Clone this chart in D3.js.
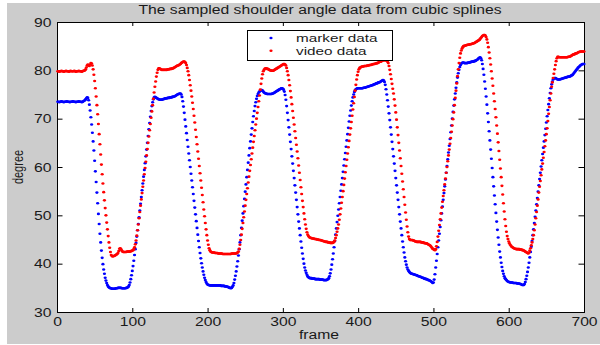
<!DOCTYPE html>
<html>
<head>
<meta charset="utf-8">
<script src="https://cdn.jsdelivr.net/npm/d3@7"></script>
<style>
  body { margin: 0; background: #fff; }
  svg { display: block; }
  text { font-family: Arial, "Liberation Sans", sans-serif; fill: #1a1a1a; }
</style>
</head>
<body>
<svg id="chart" width="600" height="345"></svg>
<script>
// shoulder angle per frame (frames 1..700)
const markerData = [
  73.5,73.5,73.4,73.5,73.5,73.6,73.5,73.5,73.4,73.5, 73.5,73.5,73.6,73.5,73.5,73.5,73.4,73.5,73.5,73.5,
  73.6,73.5,73.5,73.5,73.4,73.5,73.5,73.5,73.6,73.5, 73.5,73.5,73.4,73.5,73.6,73.7,73.8,74.0,74.2,74.4,
  74.3,73.8,72.9,71.7,70.3,68.8,67.1,65.3,63.4,61.3, 59.1,56.9,54.7,52.5,50.3,48.2,46.2,44.4,42.7,41.2,
  39.9,38.8,37.9,37.1,36.5,36.0,35.6,35.3,35.1,35.0, 34.9,34.9,34.8,34.8,34.8,34.8,34.8,34.9,34.9,34.9,
  35.0,35.0,35.0,35.0,35.0,34.9,34.9,34.9,34.9,34.9, 34.9,35.0,35.0,35.1,35.3,35.6,36.1,36.8,37.6,38.5,
  39.5,40.6,41.8,43.0,44.3,45.6,46.9,48.2,49.6,51.0, 52.4,53.8,55.2,56.6,58.0,59.4,60.8,62.2,63.6,65.0,
  66.4,67.8,69.1,70.4,71.6,72.6,73.4,74.0,74.4,74.5, 74.4,74.3,74.2,74.1,74.0,74.0,73.9,73.9,73.9,74.0,
  74.0,74.1,74.1,74.2,74.2,74.2,74.3,74.3,74.3,74.4, 74.4,74.4,74.5,74.5,74.6,74.6,74.7,74.8,74.9,75.0,
  75.1,75.1,75.2,75.2,75.0,74.5,73.6,72.5,71.2,69.8, 68.4,67.0,65.6,64.2,62.8,61.4,60.0,58.6,57.2,55.8,
  54.4,53.0,51.6,50.2,48.8,47.4,46.0,44.7,43.4,42.2, 41.1,40.1,39.2,38.4,37.7,37.1,36.6,36.2,35.9,35.7,
  35.6,35.6,35.5,35.5,35.5,35.5,35.5,35.5,35.5,35.5, 35.5,35.5,35.5,35.5,35.5,35.5,35.5,35.4,35.4,35.4,
  35.4,35.4,35.3,35.3,35.3,35.2,35.2,35.1,35.0,35.0, 34.9,35.0,35.2,35.5,36.0,36.7,37.5,38.4,39.4,40.5,
  41.7,43.0,44.4,45.9,47.4,48.9,50.4,51.9,53.4,54.9, 56.4,57.9,59.4,60.9,62.4,63.9,65.3,66.7,68.0,69.3,
  70.5,71.6,72.6,73.4,74.1,74.7,75.1,75.4,75.6,75.8, 75.9,75.9,75.8,75.6,75.4,75.3,75.2,75.2,75.1,75.1,
  75.1,75.1,75.1,75.1,75.1,75.2,75.2,75.3,75.4,75.5, 75.6,75.7,75.8,75.9,76.0,76.1,76.2,76.3,76.3,76.2,
  76.0,75.6,74.9,73.9,72.6,71.2,69.7,68.2,66.7,65.2, 63.7,62.2,60.7,59.2,57.7,56.2,54.7,53.2,51.7,50.2,
  48.7,47.3,45.9,44.6,43.3,42.1,41.0,40.0,39.2,38.6, 38.1,37.7,37.4,37.2,37.1,37.0,37.0,37.0,36.9,36.9,
  36.9,36.9,36.8,36.8,36.8,36.8,36.8,36.8,36.7,36.7, 36.7,36.7,36.7,36.6,36.6,36.6,36.6,36.6,36.7,36.8,
  37.0,37.4,38.0,38.8,39.8,40.9,42.1,43.4,44.7,46.0, 47.3,48.6,49.9,51.2,52.5,53.8,55.1,56.4,57.7,59.0,
  60.3,61.6,62.9,64.2,65.5,66.8,68.1,69.4,70.6,71.7, 72.7,73.6,74.4,75.0,75.5,75.9,76.1,76.2,76.3,76.3,
  76.3,76.3,76.3,76.3,76.3,76.3,76.4,76.4,76.4,76.5, 76.5,76.6,76.6,76.7,76.7,76.8,76.8,76.9,76.9,77.0,
  77.1,77.1,77.2,77.3,77.3,77.4,77.5,77.5,77.6,77.7, 77.8,77.9,78.0,77.9,77.6,77.0,76.1,75.0,73.8,72.5,
  71.1,69.7,68.2,66.7,65.2,63.7,62.2,60.7,59.2,57.7, 56.2,54.7,53.2,51.7,50.2,48.7,47.3,45.9,44.6,43.4,
  42.3,41.3,40.5,39.8,39.2,38.8,38.5,38.3,38.1,38.0, 37.9,37.9,37.8,37.8,37.7,37.7,37.6,37.6,37.5,37.4,
  37.4,37.3,37.3,37.2,37.1,37.1,37.0,36.9,36.9,36.8, 36.8,36.7,36.6,36.6,36.5,36.4,36.3,36.2,36.0,36.1,
  36.7,37.8,39.2,40.6,42.0,43.4,44.8,46.2,47.6,49.0, 50.4,51.8,53.2,54.6,56.0,57.4,58.8,60.2,61.6,63.0,
  64.4,65.8,67.2,68.6,70.0,71.4,72.7,74.0,75.2,76.4, 77.5,78.5,79.4,80.1,80.7,81.1,81.4,81.5,81.6,81.6,
  81.5,81.5,81.5,81.5,81.5,81.6,81.6,81.6,81.7,81.7, 81.8,81.8,81.8,81.9,81.9,82.0,82.1,82.2,82.3,82.5,
  82.6,82.7,82.5,82.1,81.3,80.3,79.1,77.7,76.2,74.6, 72.9,71.1,69.3,67.4,65.5,63.6,61.7,59.8,57.9,56.0,
  54.1,52.3,50.5,48.7,47.0,45.4,43.9,42.5,41.3,40.2, 39.3,38.5,37.9,37.4,37.0,36.8,36.6,36.4,36.3,36.2,
  36.2,36.1,36.1,36.1,36.1,36.0,36.0,36.0,36.0,36.0, 35.9,35.9,35.9,35.9,35.8,35.8,35.7,35.6,35.6,35.6,
  35.8,36.2,36.8,37.5,38.3,39.2,40.2,41.3,42.4,43.5, 44.7,45.9,47.1,48.4,49.7,51.0,52.3,53.6,54.9,56.2,
  57.5,58.8,60.1,61.4,62.7,64.0,65.3,66.6,67.9,69.2, 70.5,71.8,73.0,74.2,75.3,76.3,77.1,77.7,78.1,78.3,
  78.4,78.4,78.3,78.2,78.1,78.1,78.1,78.1,78.2,78.2, 78.3,78.3,78.4,78.4,78.5,78.5,78.6,78.6,78.7,78.7,
  78.7,78.8,78.9,79.0,79.1,79.3,79.5,79.7,79.9,80.1, 80.3,80.5,80.7,80.8,81.0,81.1,81.2,81.3,81.3,81.3
];

const videoData = [
  79.8,79.8,79.7,79.8,79.8,79.9,79.8,79.8,79.7,79.8, 79.8,79.9,79.8,79.8,79.8,79.7,79.8,79.9,79.8,79.8,
  79.8,79.8,79.9,79.8,79.7,79.8,79.8,79.8,79.9,79.8, 79.8,79.8,79.7,79.8,79.9,79.9,80.0,80.2,80.6,81.0,
  81.2,81.0,80.9,81.2,81.5,81.4,81.0,80.2,79.1,77.8, 76.3,74.6,72.8,70.9,68.9,66.8,64.7,62.6,60.5,58.5,
  56.6,54.8,53.1,51.5,50.0,48.5,47.1,45.7,44.4,43.3, 42.4,41.8,41.6,41.5,41.6,41.6,41.7,41.8,41.9,42.0,
  42.2,42.6,43.1,43.2,43.0,42.7,42.5,42.4,42.4,42.4, 42.4,42.4,42.5,42.5,42.5,42.5,42.5,42.6,42.6,42.7,
  42.8,43.0,43.4,44.0,44.8,45.8,46.9,48.1,49.4,50.7, 52.0,53.3,54.6,55.9,57.2,58.5,59.8,61.1,62.4,63.7,
  65.0,66.3,67.6,68.9,70.2,71.5,72.8,74.1,75.4,76.6, 77.7,78.7,79.5,80.1,80.4,80.4,80.3,80.2,80.1,80.1,
  80.1,80.1,80.1,80.1,80.1,80.1,80.2,80.2,80.2,80.3, 80.3,80.3,80.4,80.4,80.5,80.6,80.7,80.8,80.9,81.0,
  81.0,81.1,81.2,81.3,81.5,81.6,81.7,81.8,81.8,81.7, 81.5,81.1,80.5,79.8,79.0,78.0,76.9,75.8,74.6,73.3,
  72.0,70.6,69.2,67.7,66.2,64.7,63.2,61.7,60.2,58.7, 57.2,55.7,54.2,52.7,51.2,49.8,48.4,47.1,45.9,44.8,
  43.9,43.2,42.8,42.5,42.4,42.3,42.3,42.3,42.3,42.2, 42.2,42.2,42.2,42.1,42.1,42.1,42.1,42.1,42.1,42.0,
  42.0,42.0,42.0,42.0,42.0,42.0,42.0,42.0,42.0,42.0, 42.0,42.1,42.1,42.1,42.1,42.1,42.1,42.1,42.2,42.3,
  42.5,43.1,43.9,44.9,46.0,47.2,48.4,49.6,50.8,52.0, 53.2,54.4,55.6,56.8,58.0,59.2,60.4,61.6,62.8,64.0,
  65.2,66.4,67.6,68.8,70.0,71.2,72.4,73.6,74.8,76.0, 77.2,78.3,79.2,79.8,80.1,80.3,80.4,80.4,80.3,80.3,
  80.2,80.1,80.0,80.0,79.9,79.9,79.9,80.0,80.1,80.2, 80.3,80.4,80.5,80.6,80.7,80.8,80.9,81.0,81.1,81.2,
  81.3,81.3,81.2,81.0,80.5,79.8,79.0,78.0,76.9,75.7, 74.4,73.0,71.6,70.2,68.8,67.4,66.0,64.6,63.2,61.8,
  60.3,58.8,57.3,55.8,54.4,53.0,51.7,50.4,49.2,48.1, 47.2,46.5,46.0,45.7,45.5,45.4,45.3,45.3,45.2,45.2,
  45.2,45.1,45.1,45.1,45.0,45.0,45.0,44.9,44.9,44.9, 44.8,44.8,44.7,44.7,44.6,44.6,44.5,44.5,44.5,44.4,
  44.4,44.4,44.3,44.3,44.3,44.3,44.4,44.5,44.8,45.3, 45.9,46.6,47.3,48.1,49.1,50.2,51.4,52.6,53.8,55.0,
  56.3,57.6,58.9,60.2,61.5,62.8,64.1,65.4,66.7,68.0, 69.3,70.6,71.9,73.2,74.5,75.8,77.0,78.1,79.0,79.7,
  80.2,80.5,80.6,80.7,80.8,80.8,80.8,80.9,80.9,80.9, 80.9,81.0,81.0,81.0,81.1,81.1,81.1,81.2,81.2,81.3,
  81.3,81.3,81.4,81.4,81.5,81.5,81.6,81.7,81.8,81.8, 81.9,82.0,82.1,82.1,82.1,82.1,82.1,82.0,81.8,81.5,
  80.9,80.1,79.2,78.2,77.2,76.2,75.2,74.0,72.7,71.3, 69.8,68.2,66.6,65.0,63.4,61.8,60.2,58.6,57.0,55.4,
  53.8,52.2,50.6,49.1,47.7,46.5,45.6,45.1,44.9,44.9, 44.9,44.9,44.8,44.8,44.7,44.6,44.6,44.5,44.5,44.5,
  44.5,44.5,44.5,44.4,44.4,44.4,44.3,44.3,44.2,44.2, 44.2,44.1,44.0,43.9,43.8,43.7,43.5,43.3,43.1,43.0,
  42.9,42.8,43.0,43.6,44.5,45.6,46.8,48.0,49.2,50.4, 51.6,52.8,54.0,55.2,56.4,57.6,58.8,60.0,61.2,62.4,
  63.6,64.8,66.0,67.3,68.6,69.9,71.3,72.8,74.3,75.8, 77.3,78.8,80.2,81.5,82.6,83.5,84.1,84.5,84.8,85.0,
  85.1,85.1,85.2,85.2,85.3,85.3,85.3,85.4,85.4,85.4, 85.5,85.5,85.6,85.6,85.7,85.8,85.9,86.0,86.1,86.2,
  86.3,86.5,86.7,86.9,87.1,87.2,87.3,87.3,87.2,86.9, 86.4,85.7,84.8,83.7,82.5,81.2,79.8,78.3,76.8,75.2,
  73.6,72.0,70.3,68.6,66.9,65.1,63.3,61.5,59.7,57.9, 56.1,54.3,52.5,50.8,49.2,47.8,46.6,45.7,45.1,44.6,
  44.2,43.9,43.7,43.5,43.4,43.3,43.2,43.1,43.1,43.0, 43.0,43.0,43.0,43.0,42.9,42.9,42.9,42.8,42.8,42.7,
  42.6,42.5,42.4,42.3,42.2,42.1,42.3,42.7,43.2,43.8, 44.4,45.1,45.9,46.9,48.1,49.4,50.7,52.0,53.3,54.7,
  55.9,57.1,58.3,59.5,60.7,61.9,63.1,64.3,65.5,66.8, 68.0,69.5,71.0,72.4,73.8,75.2,76.6,77.5,78.4,79.3,
  80.2,81.1,81.9,82.5,82.8,82.8,82.7,82.7,82.7,82.7, 82.7,82.7,82.7,82.7,82.7,82.7,82.7,82.7,82.8,82.8,
  82.8,82.9,83.0,83.1,83.2,83.3,83.3,83.4,83.5,83.5, 83.6,83.7,83.8,83.8,83.9,83.9,83.9,83.9,83.9,83.9
];

const frames = markerData.map((d, i) => i + 1);
const xTicks = [0, 100, 200, 300, 400, 500, 600, 700];
const yTicks = [30, 40, 50, 60, 70, 80, 90];
const seriesNames = ["marker data", "video data"];
const seriesColors = ["#0000ff", "#ff0000"];

const stretchX = 1.31; // the picture's text is wider than it is tall

const svg = d3.select("#chart");

// grey figure background
svg.append("rect")
  .attr("x", 7).attr("y", 3)
  .attr("width", 593).attr("height", 341)
  .attr("fill", "#cccccc");

const x = d3.scaleLinear().domain([0, 700]).range([57, 584]);
const y = d3.scaleLinear().domain([30, 90]).range([312, 22]);

// white axes area
svg.append("rect")
  .attr("x", 57.5).attr("y", 22.5)
  .attr("width", 527).attr("height", 290)
  .attr("fill", "#ffffff")
  .attr("stroke", "#000")
  .attr("stroke-width", 1);

// Draw the axes, ticks pointing inwards
const bottom = svg.append("g")
  .attr("transform", "translate(0,312)")
  .call(d3.axisBottom(x).tickValues(xTicks).tickSizeInner(-4).tickSizeOuter(0).tickPadding(5));

svg.append("g")
  .attr("transform", "translate(0,22)")
  .call(d3.axisTop(x).tickValues(xTicks).tickSizeInner(-4).tickSizeOuter(0).tickFormat(""));

const left = svg.append("g")
  .attr("transform", "translate(57,0)")
  .call(d3.axisLeft(y).tickValues(yTicks).tickSizeInner(-5.5).tickSizeOuter(0).tickPadding(5));

svg.append("g")
  .attr("transform", "translate(584,0)")
  .call(d3.axisRight(y).tickValues(yTicks).tickSizeInner(-5.5).tickSizeOuter(0).tickFormat(""));

svg.selectAll(".domain").remove();
svg.selectAll(".tick line").attr("stroke", "#000");

bottom.selectAll("text")
  .attr("font-size", 12)
  .attr("fill", "#1a1a1a")
  .attr("transform", `scale(${stretchX},1)`);

left.selectAll("text")
  .attr("font-size", 12)
  .attr("fill", "#1a1a1a")
  .attr("x", -5.5 / stretchX)
  .attr("dy", "0.36em")
  .attr("transform", `scale(${stretchX},1)`);

// scatter points, marker first then video on top
const series = [markerData, videoData];
series.forEach((vals, k) => {
  svg.append("g")
    .selectAll("ellipse")
    .data(vals)
    .enter()
    .append("ellipse")
    .attr("cx", (d, i) => x(frames[i]))
    .attr("cy", d => y(d))
    .attr("rx", 1.6)
    .attr("ry", 1.3)
    .attr("fill", seriesColors[k]);
});

// legend
const legend = svg.append("g");
legend.append("rect")
  .attr("x", 247.5).attr("y", 30.5)
  .attr("width", 145).attr("height", 30)
  .attr("fill", "#fff")
  .attr("stroke", "#000");

seriesNames.forEach((name, k) => {
  const ly = 38 + k * 12.8;
  legend.append("ellipse")
    .attr("cx", 271).attr("cy", ly)
    .attr("rx", 1.6).attr("ry", 1.3)
    .attr("fill", seriesColors[k]);
  legend.append("text")
    .attr("transform", `translate(296,${ly + 3.7}) scale(${stretchX * 1.06},1)`)
    .attr("font-size", 11)
    .text(name);
});

// title and axis labels
svg.append("text")
  .attr("transform", `translate(320,13.5) scale(${stretchX},1)`)
  .attr("text-anchor", "middle")
  .attr("font-size", 12)
  .text("The sampled shoulder angle data from cubic splines");

svg.append("text")
  .attr("transform", `translate(319,339) scale(${stretchX},1)`)
  .attr("text-anchor", "middle")
  .attr("font-size", 12)
  .text("frame");

svg.append("text")
  .attr("transform", `translate(23,167) scale(${stretchX},1) rotate(-90)`)
  .attr("text-anchor", "middle")
  .attr("font-size", 11)
  .text("degree");
</script>
</body>
</html>
